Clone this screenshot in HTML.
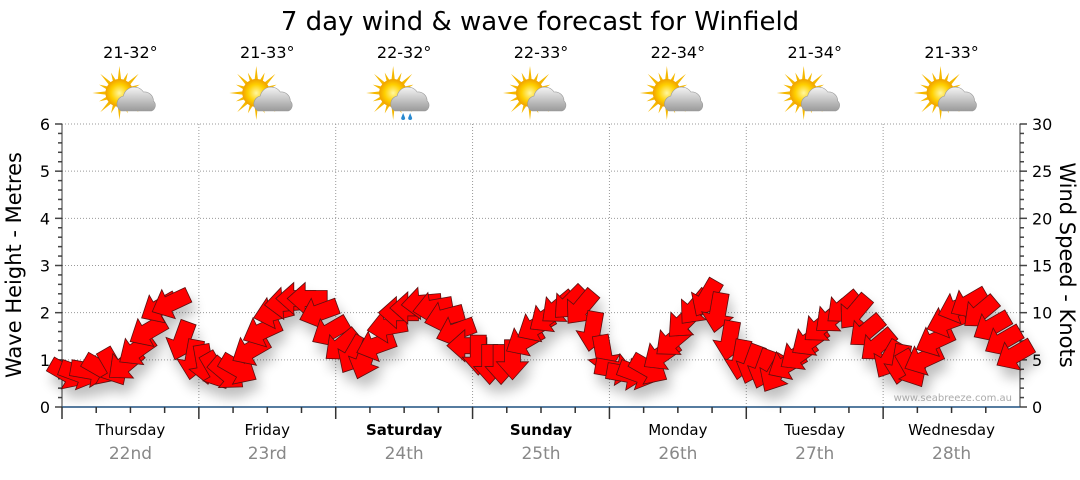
<!DOCTYPE html>
<html><head><meta charset="utf-8"><style>
body{margin:0;background:#fff;width:1080px;height:475px;overflow:hidden;font-family:"Liberation Sans",sans-serif}
svg text{font-family:"DejaVu Sans","Liberation Sans",sans-serif}
</style></head><body>
<svg id="c" width="1080" height="475" viewBox="0 0 1080 475">
<defs>
<filter id="sh" x="-20%" y="-20%" width="140%" height="160%"><feGaussianBlur in="SourceAlpha" stdDeviation="6"/><feOffset dx="4" dy="10"/><feComponentTransfer><feFuncA type="linear" slope="0.25"/></feComponentTransfer><feMerge><feMergeNode/><feMergeNode in="SourceGraphic"/></feMerge></filter>
<radialGradient id="sun" cx="0.5" cy="0.5" r="0.5"><stop offset="0" stop-color="#fff7a0"/><stop offset="0.6" stop-color="#ffd000"/><stop offset="1" stop-color="#f0a000"/></radialGradient>
<linearGradient id="cloud" x1="0" y1="0" x2="0" y2="1"><stop offset="0" stop-color="#f4f4f4"/><stop offset="1" stop-color="#9a9a9a"/></linearGradient>
</defs>
<text x="540" y="30" text-anchor="middle" font-size="26" fill="#000">7 day wind &amp; wave forecast for Winfield</text>
<g id="grid"></g><g id="icons"></g><g id="axes"></g><g id="arrows" filter="url(#sh)"></g>
<text x="1012" y="401" text-anchor="end" font-size="10" fill="#aaa">www.seabreeze.com.au</text>
<text transform="translate(21,265) rotate(-90)" text-anchor="middle" font-size="21">Wave Height - Metres</text>
<text transform="translate(1060,265) rotate(90)" text-anchor="middle" font-size="21">Wind Speed - Knots</text>
</svg>
<script>
const days=["Thursday","Friday","Saturday","Sunday","Monday","Tuesday","Wednesday"];
const dates=["22nd","23rd","24th","25th","26th","27th","28th"];
const temps=["21-32°","21-33°","22-32°","22-33°","22-34°","21-34°","21-33°"];
const rainy=[false,false,true,false,false,false,false];
const waveTicks=[0,1,2,3,4,5,6];
const windTicks=[0,5,10,15,20,25,30];
const windKnots=[3.5,3.5,3.8,4,4.2,4.5,6,8,10.5,11,7,5,
4.5,3.8,3.5,4,6,8,10,11,11.5,11.5,10,8,
6.5,5.5,5,6.5,8.5,10,10.5,11,10.5,9.5,8,6.5,
5.5,4.5,4.5,5,7,8.5,9.5,10.5,11,10.5,8,5.5,
4,3.5,3.5,4,5.5,7,9,10.5,11.5,10,7,5,
4.5,4,3.5,4.5,5.5,7,8.5,9.5,10.5,10,8,6.5,
5,4.5,4,5,7,9,10.5,11,10,8.5,7,5.5];
const windHeading=[30,20,10,30,60,140,145,150,150,155,110,100,
80,60,40,30,150,155,165,175,180,180,160,150,
140,120,110,160,170,180,180,175,170,165,160,180,
90,90,90,90,150,150,145,140,135,130,100,80,
10,10,20,30,145,140,135,130,120,100,100,100,
110,110,120,150,145,145,140,140,140,130,140,140,
120,100,60,155,155,160,160,150,140,150,150,150];
const NS="http://www.w3.org/2000/svg";
const X0=62,X1=1020,Y0=407,Y1=124;
const dayW=(X1-X0)/7;
const xT=h=>X0+h/168*(X1-X0);
const yW=m=>Y0-m/6*(Y0-Y1);
const yK=k=>Y0-k/30*(Y0-Y1);
function el(t,a,p){const e=document.createElementNS(NS,t);for(const k in a)e.setAttribute(k,a[k]);p.appendChild(e);return e;}
const grid=document.getElementById('grid'),axes=document.getElementById('axes'),icons=document.getElementById('icons'),arrows=document.getElementById('arrows');
waveTicks.forEach(v=>{if(v>0){const l=el('line',{x1:X0,x2:X1,y1:yW(v),y2:yW(v),stroke:'#999','stroke-dasharray':'1,2'},grid);

}
const t=el('text',{x:X0-12,y:yW(v)+6,'text-anchor':'end','font-size':16},axes);t.textContent=v;

});
for(let i=0;i<=30;i++){const y=Y0-i/30*(Y0-Y1);el('line',{x1:X0-(i%5?4:7),x2:X0,y1:y,y2:y,stroke:'#444','stroke-width':1.5},axes);el('line',{x1:X1,x2:X1+(i%5?4:7),y1:y,y2:y,stroke:'#444','stroke-width':1.5},axes);}
windTicks.forEach(v=>{const t=el('text',{x:X1+12,y:yK(v)+6,'font-size':16},axes);t.textContent=v;

});
el('line',{x1:X0,x2:X0,y1:Y1,y2:Y0,stroke:'#333'},axes);el('line',{x1:X1,x2:X1,y1:Y1,y2:Y0,stroke:'#333'},axes);
el('line',{x1:X0,x2:X1,y1:Y0,y2:Y0,stroke:'#1f5080','stroke-width':1.5},axes);
for(let d=0;d<7;d++){
 const cx=X0+dayW*(d+0.5);
 if(d>0){const l=el('line',{x1:X0+dayW*d,x2:X0+dayW*d,y1:Y1,y2:Y0,stroke:'#999','stroke-dasharray':'1,2'},grid);
 
 }
 for(let q=0;q<4;q++){const x=X0+dayW*d+q*dayW/4;el('line',{x1:x,x2:x,y1:Y0,y2:Y0+(q==0?12:6),stroke:'#333','stroke-width':1.5},axes);}
 const bold=(d==2||d==3)?'bold':'normal';
 const t1=el('text',{x:cx,y:435,'text-anchor':'middle','font-size':15,'font-weight':bold},axes);t1.textContent=days[d];
 
 
 const t2=el('text',{x:cx,y:459,'text-anchor':'middle','font-size':17,fill:'#888'},axes);t2.textContent=dates[d];
 
 
 const tt=el('text',{x:cx,y:58,'text-anchor':'middle','font-size':16},icons);tt.textContent=temps[d];
 
 
 const g=el('g',{transform:`translate(${cx-3},97)`},icons);
 
 
 for(let r=0;r<16;r++){const a=r*Math.PI/8,L=r%2?22:27;el('polygon',{points:`${Math.cos(a-0.18)*11-8},${Math.sin(a-0.18)*11-4} ${Math.cos(a)*L-8},${Math.sin(a)*L-4} ${Math.cos(a+0.18)*11-8},${Math.sin(a+0.18)*11-4}`,fill:'#f5b800'},g);}
 el('circle',{cx:-8,cy:-4,r:14,fill:'url(#sun)'},g);
 el('path',{d:'M-6,14 a8,8 0 0 1 2,-15 a11,11 0 0 1 20,-4 a9,9 0 0 1 10,9 a6,6 0 0 1 -2,10 z',fill:'url(#cloud)',stroke:'#999','stroke-width':0.6},g);
 if(rainy[d]){el('path',{d:'M2,16 l-2,5 a2,2 0 0 0 4,0 z M9,16 l-2,5 a2,2 0 0 0 4,0 z',fill:'#2a8ad0'},g);}
}
const arrowPts="-20,-8 2,-8 2,-16 20,0 2,16 2,8 -20,8";
windKnots.forEach((k,i)=>{
 const x=xT(i*2+1),y=yK(k);
 const a=el('polygon',{points:arrowPts,fill:'#ff0000',stroke:'#5a1010','stroke-width':0.8,transform:`translate(${x},${y}) rotate(${windHeading[i]})`},arrows);
 
 
});
</script>
</body></html>
